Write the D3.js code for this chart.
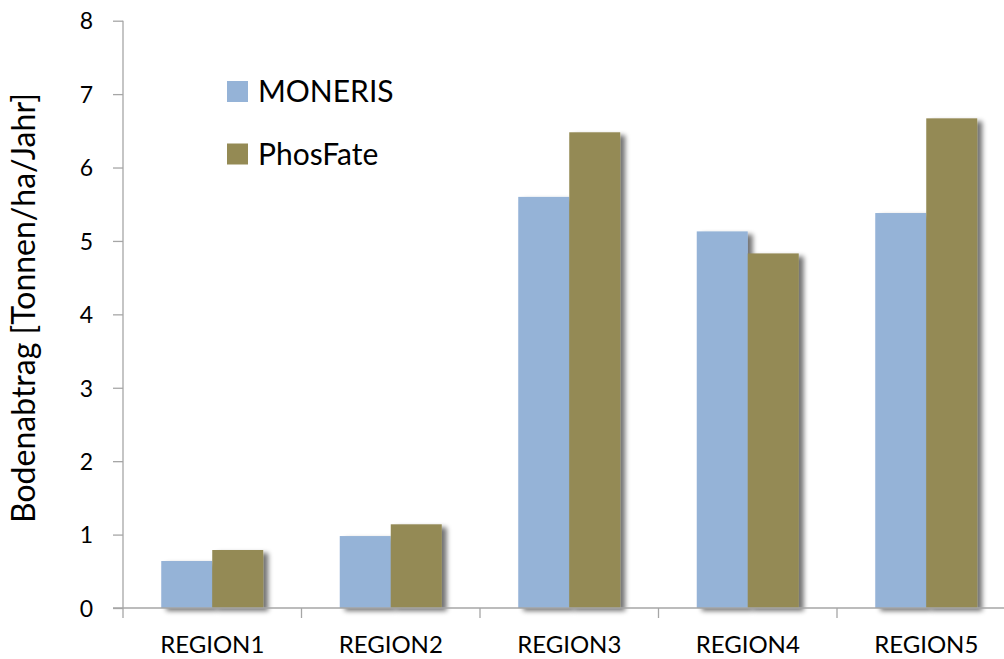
<!DOCTYPE html>
<html>
<head>
<meta charset="utf-8">
<script src="https://cdn.jsdelivr.net/npm/d3@7"></script>
<style>
  html, body { margin: 0; padding: 0; background: #fff; }
  svg { display: block; }
  text { font-family: Lato, "Open Sans", sans-serif; fill: #000; }
</style>
</head>
<body>
<svg id="chart" width="1004" height="659"></svg>
<script>
// Soil erosion per region, two models
const regions = ["REGION1", "REGION2", "REGION3", "REGION4", "REGION5"];
const seriesNames = ["MONERIS", "PhosFate"];
const moneris = [0.64, 0.98, 5.60, 5.13, 5.38];
const phosfate = [0.79, 1.14, 6.48, 4.83, 6.67];
const yTicks = [0, 1, 2, 3, 4, 5, 6, 7, 8];
const colors = ["#95B3D7", "#948A54"];

const svg = d3.select("#chart");
const x0 = 123, x1 = 1015.5, yTop = 20.7, yBottom = 608;

const x = d3.scaleBand().domain(regions).range([x0, x1]).paddingInner(0).paddingOuter(0);
const xs = d3.scaleBand().domain(seriesNames).range([0, 102]);
const y = d3.scaleLinear().domain([0, 8]).range([yBottom, yTop]);

const defs = svg.append("defs");
const f = defs.append("filter").attr("id", "shadow")
  .attr("x", "-20%").attr("y", "-20%").attr("width", "150%").attr("height", "150%");
f.append("feGaussianBlur").attr("in", "SourceAlpha").attr("stdDeviation", 2.5).attr("result", "b");
f.append("feOffset").attr("in", "b").attr("dx", 5).attr("dy", 3).attr("result", "o");
f.append("feComponentTransfer").attr("in", "o").attr("result", "s")
  .append("feFuncA").attr("type", "linear").attr("slope", 0.55);
const m = f.append("feMerge");
m.append("feMergeNode").attr("in", "s");
m.append("feMergeNode").attr("in", "SourceGraphic");

const rows = regions.map((r, i) => ({ region: r, values: [moneris[i], phosfate[i]] }));

// bars
const g = svg.append("g");
rows.forEach(row => {
  const cx = x(row.region) + x.bandwidth() / 2 - 51;
  row.values.forEach((v, j) => {
    g.append("rect")
      .attr("x", cx + xs(seriesNames[j]))
      .attr("y", y(v))
      .attr("width", xs.bandwidth())
      .attr("height", y(0) - y(v))
      .attr("fill", colors[j])
      .attr("filter", "url(#shadow)");
  });
});

// y axis
const yAxis = svg.append("g").attr("transform", `translate(${x0},0)`)
  .call(d3.axisLeft(y).tickValues(yTicks).tickSize(10).tickPadding(12).tickFormat(d3.format("d")));
yAxis.select(".domain").attr("stroke", "#a6a6a6").attr("stroke-width", 1.3).attr("d", `M0,${yTop}V${yBottom}`);
yAxis.selectAll(".tick line").attr("stroke", "#a6a6a6").attr("stroke-width", 1.3);
yAxis.selectAll(".tick text").style("font-size", "23px").attr("dy", "0.36em").attr("x", -30);

// x axis
const boundaries = regions.map(r => x(r)).concat([x1]);
const xAxis = svg.append("g").attr("transform", `translate(0,${yBottom})`);
xAxis.append("line").attr("x1", x0 - 10).attr("x2", x1).attr("y1", 0).attr("y2", 0)
  .attr("stroke", "#a6a6a6").attr("stroke-width", 1.3);
xAxis.selectAll("line.tk").data(boundaries).join("line").attr("class", "tk")
  .attr("x1", d => d).attr("x2", d => d).attr("y1", 0).attr("y2", 10)
  .attr("stroke", "#a6a6a6").attr("stroke-width", 1.3);
xAxis.selectAll("text").data(regions).join("text")
  .attr("x", d => x(d) + x.bandwidth() / 2)
  .attr("y", 45)
  .attr("text-anchor", "middle")
  .style("font-size", "24px")
  .text(d => d);

// y axis title
svg.append("text")
  .attr("transform", "translate(35,308) rotate(-90)")
  .attr("text-anchor", "middle")
  .style("font-size", "32px")
  .text("Bodenabtrag [Tonnen/ha/Jahr]");

// legend
const legend = svg.append("g");
seriesNames.forEach((s, i) => {
  const ly = 81 + i * 62.5;
  legend.append("rect").attr("x", 227).attr("y", ly).attr("width", 21).attr("height", 21).attr("fill", colors[i]);
  legend.append("text").attr("x", 258).attr("y", ly + 21).style("font-size", "30px").text(s);
});
</script>
</body>
</html>
